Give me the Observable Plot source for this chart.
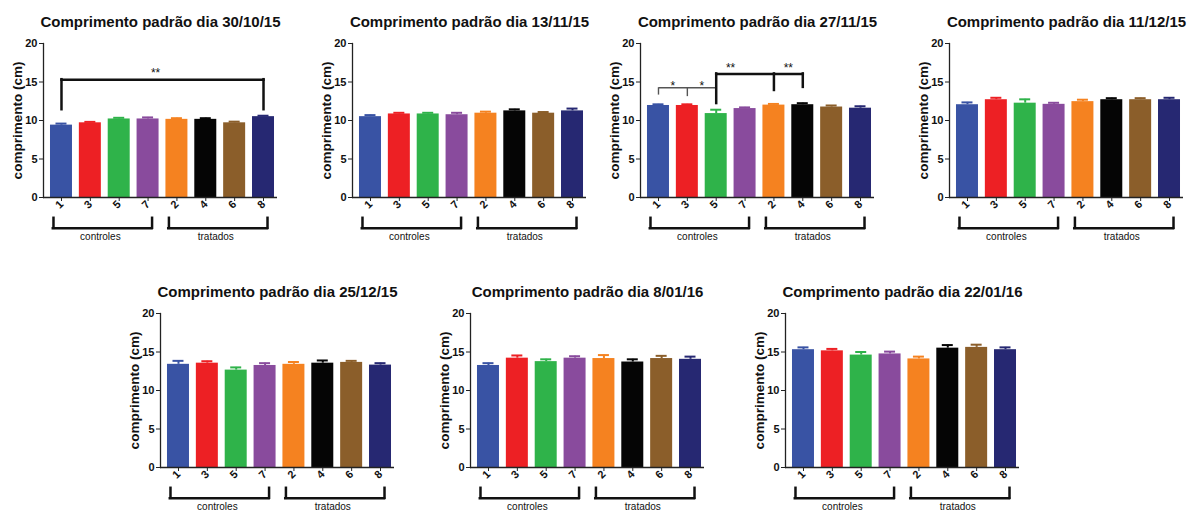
<!DOCTYPE html>
<html><head><meta charset="utf-8">
<script src="https://cdn.jsdelivr.net/npm/d3@7"></script>
<script src="https://cdn.jsdelivr.net/npm/@observablehq/plot@0.6"></script>
<style>
html,body{margin:0;padding:0;background:#fff;overflow:hidden;}
#root{position:relative;width:1195px;height:511px;overflow:hidden;font-family:"Liberation Sans",Arial,sans-serif;}
#root svg{position:absolute;overflow:visible;}
</style></head><body><div id="root"></div>
<script>
// ---- data ----
const groups = ["1","3","5","7","2","4","6","8"];
const groupColors = ["#3953a4","#ed2024","#2fb34a","#894b9d","#f58220","#050505","#8b5e2a","#262872"];
const dates = ["30/10/15","13/11/15","27/11/15","11/12/15","25/12/15","8/01/16","22/01/16"];

const mean_30_10_15 = [9.4, 9.7, 10.2, 10.2, 10.15, 10.15, 9.7, 10.5];
const sem_30_10_15  = [0.2, 0.12, 0.15, 0.2, 0.15, 0.15, 0.15, 0.12];
const mean_13_11_15 = [10.5, 10.85, 10.85, 10.75, 10.95, 11.25, 10.95, 11.25];
const sem_13_11_15  = [0.2, 0.15, 0.15, 0.25, 0.2, 0.2, 0.15, 0.3];
const mean_27_11_15 = [11.95, 11.95, 10.9, 11.55, 12.0, 12.05, 11.75, 11.6];
const sem_27_11_15  = [0.15, 0.15, 0.5, 0.15, 0.15, 0.2, 0.2, 0.25];
const mean_11_12_15 = [12.05, 12.7, 12.25, 12.1, 12.45, 12.7, 12.7, 12.7];
const sem_11_12_15  = [0.3, 0.25, 0.5, 0.2, 0.25, 0.2, 0.2, 0.25];
const mean_25_12_15 = [13.4, 13.55, 12.65, 13.25, 13.4, 13.55, 13.65, 13.3];
const sem_25_12_15  = [0.45, 0.25, 0.35, 0.3, 0.3, 0.35, 0.2, 0.25];
const mean_8_01_16  = [13.25, 14.2, 13.75, 14.2, 14.15, 13.7, 14.15, 14.05];
const sem_8_01_16   = [0.3, 0.35, 0.3, 0.25, 0.45, 0.35, 0.35, 0.35];
const mean_22_01_16 = [15.3, 15.15, 14.6, 14.75, 14.1, 15.5, 15.6, 15.3];
const sem_22_01_16  = [0.3, 0.25, 0.4, 0.3, 0.3, 0.4, 0.35, 0.3];

const yTicks = [0, 5, 10, 15, 20];
const groupBrackets = [
  {label: "controles", from: "1", to: "7", mid: "3"},
  {label: "tratados",  from: "2", to: "8", mid: "4"}
];
// significance annotations (panel index, groups, heights in cm)
const sigLines = [
  {panel: 0, from: "1", to: "8", y: 15.3, thin: false},
  {panel: 2, from: "1", to: "5", y: 14.25, thin: true},
  {panel: 2, from: "5", to: "4", y: 16.05, thin: false}
];
const sigLegs = [
  {panel: 0, at: "1", y1: 11.4, y2: 15.3, thin: false},
  {panel: 0, at: "8", y1: 11.4, y2: 15.3, thin: false},
  {panel: 2, at: "1", y1: 13.3, y2: 14.25, thin: true},
  {panel: 2, at: "3", y1: 13.1, y2: 14.25, thin: true},
  {panel: 2, at: "5", y1: 12.2, y2: 16.05, thin: false},
  {panel: 2, at: "2", y1: 13.9, y2: 16.05, thin: false},
  {panel: 2, at: "4", y1: 14.3, y2: 16.05, thin: false}
];
const sigStars = [
  {panel: 0, at: "7", y: 16.2, label: "**", half: false},
  {panel: 2, at: "1", y: 14.4, label: "*", half: true},
  {panel: 2, at: "3", y: 14.4, label: "*", half: true},
  {panel: 2, at: "5", y: 16.8, label: "**", half: true},
  {panel: 2, at: "2", y: 16.8, label: "**", half: true}
];

const panels = [
  {means: mean_30_10_15, sems: sem_30_10_15},
  {means: mean_13_11_15, sems: sem_13_11_15},
  {means: mean_27_11_15, sems: sem_27_11_15},
  {means: mean_11_12_15, sems: sem_11_12_15},
  {means: mean_25_12_15, sems: sem_25_12_15},
  {means: mean_8_01_16,  sems: sem_8_01_16},
  {means: mean_22_01_16, sems: sem_22_01_16}
];
// layout (panel origins)
const origins = [[0,0],[309,0],[597,0],[906,0],[117,270],[427,270],[742,270]];

const FONT = '"Liberation Sans", Arial, Helvetica, sans-serif';
const root = document.getElementById("root");

panels.forEach((p, k) => {
  const rows = groups.map((g, i) => ({g, mean: p.means[i], sem: p.sems[i]}));
  const marks = [
    Plot.barY(rows, {x: "g", y: "mean", fill: "g"}),
    Plot.ruleX(rows, {x: "g", y1: "mean", y2: d => d.mean + d.sem, stroke: "g", strokeWidth: 2}),
    Plot.tickY(rows, {x: "g", y: d => d.mean + d.sem, stroke: "g", strokeWidth: 2, insetLeft: 5.5, insetRight: 5.5}),
    Plot.ruleY([0], {stroke: "#222", strokeWidth: 1.3}),
    Plot.frame({anchor: "left", stroke: "#222", strokeWidth: 1.3}),
    Plot.axisY({ticks: yTicks, tickSize: 4, tickPadding: 2, fontWeight: "bold", fontSize: 11, label: null, stroke: "#222"}),
    Plot.axisX({tickRotate: -45, tickSize: 4, tickPadding: 1, fontWeight: "bold", fontSize: 11, label: null, stroke: "#222"}),
    Plot.text(["comprimento (cm)"], {frameAnchor: "left", textAnchor: "middle", rotate: -90, dx: -26, fontWeight: "bold", fontSize: 13.5, fill: "#111"}),
    Plot.text(["Comprimento padrão dia " + dates[k]], {frameAnchor: "top", textAnchor: "middle", dy: -27, fontWeight: "bold", fontSize: 15, fill: "#111"}),
    // group brackets
    Plot.ruleY(groupBrackets, {x1: "from", x2: "to", y: -4, insetLeft: 2.8, insetRight: 7, stroke: "#111", strokeWidth: 2.5, strokeLinecap: "square"}),
    Plot.ruleX(groupBrackets, {x: "from", y1: -2.7, y2: -4, dx: -8, stroke: "#111", strokeWidth: 2.5, strokeLinecap: "square"}),
    Plot.ruleX(groupBrackets, {x: "to", y1: -2.7, y2: -4, dx: 4, stroke: "#111", strokeWidth: 2.5, strokeLinecap: "square"}),
    Plot.text(groupBrackets, {x: "mid", y: -5.05, text: "label", dx: 10, fontSize: 10, fill: "#111"})
  ];
  // significance
  const L = sigLines.filter(d => d.panel === k);
  const G = sigLegs.filter(d => d.panel === k);
  const S = sigStars.filter(d => d.panel === k);
  if (L.length) {
    marks.push(Plot.link(L.filter(d => !d.thin), {x1: "from", x2: "to", y1: "y", y2: "y", stroke: "#111", strokeWidth: 2.5, strokeLinecap: "square"}));
    marks.push(Plot.link(L.filter(d => d.thin), {x1: "from", x2: "to", y1: "y", y2: "y", stroke: "#555", strokeWidth: 1.4}));
    marks.push(Plot.ruleX(G.filter(d => !d.thin), {x: "at", y1: "y1", y2: "y2", stroke: "#111", strokeWidth: 2.5, strokeLinecap: "square"}));
    marks.push(Plot.ruleX(G.filter(d => d.thin), {x: "at", y1: "y1", y2: "y2", stroke: "#555", strokeWidth: 1.4}));
    marks.push(Plot.text(S.filter(d => d.half), {x: "at", y: "y", text: "label", dx: 14.4, fontSize: 12, fill: "#111"}));
    marks.push(Plot.text(S.filter(d => !d.half), {x: "at", y: "y", text: "label", dx: 7.5, fontSize: 12, fill: "#111"}));
  }
  const svg = Plot.plot({
    width: 290, height: 250,
    marginLeft: 43, marginRight: 13, marginTop: 43, marginBottom: 53,
    x: {domain: groups, paddingInner: 0.238, paddingOuter: 0.173, align: 0.7, round: false},
    y: {domain: [0, 20]},
    color: {domain: groups, range: groupColors},
    style: {fontFamily: FONT, background: "transparent", overflow: "visible", color: "#111"},
    marks
  });
  svg.style.left = origins[k][0] + "px";
  svg.style.top = origins[k][1] + "px";
  root.appendChild(svg);
});
</script></body></html>
